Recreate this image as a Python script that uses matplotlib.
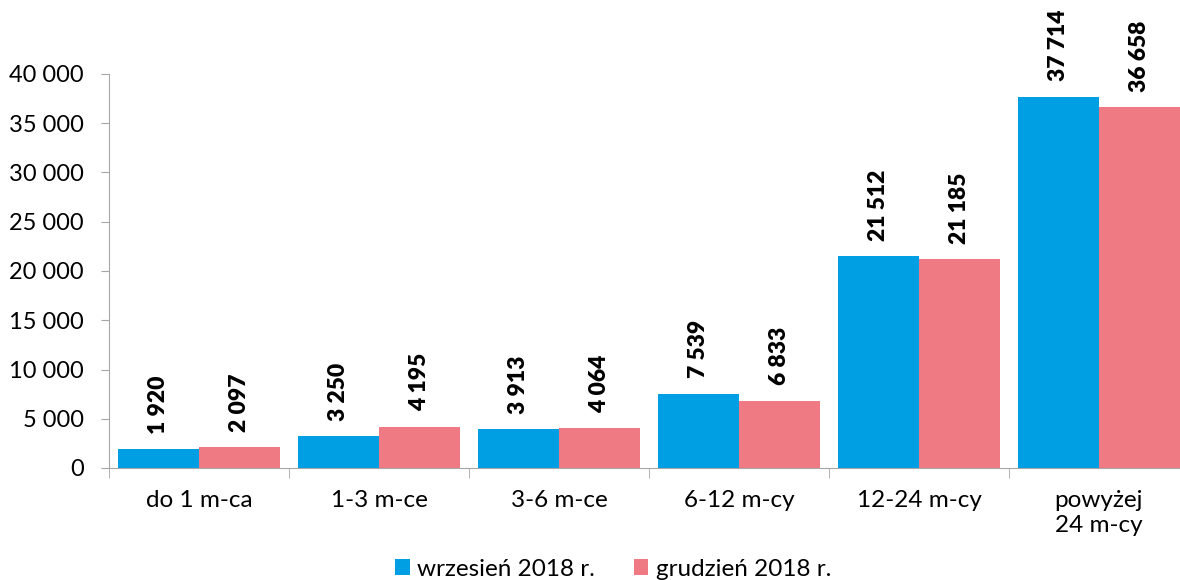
import matplotlib.pyplot as plt
import numpy as np

categories = ["do 1 m-ca", "1-3 m-ce", "3-6 m-ce", "6-12 m-cy", "12-24 m-cy", "powyżej\n24 m-cy"]
wrzesien = [1920, 3250, 3913, 7539, 21512, 37714]
grudzien = [2097, 4195, 4064, 6833, 21185, 36658]
series_names = ["wrzesień 2018 r.", "grudzień 2018 r."]
yticks = [0, 5000, 10000, 15000, 20000, 25000, 30000, 35000, 40000]

BLUE = "#009FE3"
PINK = "#F07A84"

plt.rcParams['font.family'] = ['Lato', 'DejaVu Sans']


def fmt(v):
    return "{:,}".format(v).replace(",", " ")


fig = plt.figure(figsize=(11.8, 5.8), dpi=100)
W, H = 1180, 580
ax = fig.add_axes([109 / W, 1 - 468 / H, 1080 / W, 394 / H])

x = np.arange(len(categories))
w = 0.45
b1 = ax.bar(x - w / 2, wrzesien, w, color=BLUE, label=series_names[0])
b2 = ax.bar(x + w / 2, grudzien, w, color=PINK, label=series_names[1])

for bars, vals in [(b1, wrzesien), (b2, grudzien)]:
    for rect, v in zip(bars, vals):
        ax.annotate(fmt(v), (rect.get_x() + rect.get_width() / 2, v),
                    xytext=(0, 11), textcoords="offset points",
                    rotation=90, ha="center", va="bottom",
                    fontsize=16.5, fontweight="heavy", annotation_clip=False)

ax.set_xlim(-0.5, len(categories) - 0.5)
ax.set_ylim(0, 40000)
ax.set_yticks(yticks)
ax.set_yticklabels([fmt(t) for t in yticks], fontsize=17)

ax.set_xticks(x)
ax.set_xticklabels(categories, fontsize=17.5, linespacing=1.25)
ax.tick_params(axis="x", length=0, pad=16)
ax.set_xticks(np.arange(len(categories) + 1) - 0.5, minor=True)
ax.tick_params(axis="x", which="minor", length=7, color="#A6A6A6")
ax.tick_params(axis="y", length=6, color="#A6A6A6", pad=12)

for s in ["top", "right"]:
    ax.spines[s].set_visible(False)
for s in ["left", "bottom"]:
    ax.spines[s].set_color("#A6A6A6")

fig.legend(loc="center", bbox_to_anchor=(613 / W, 1 - 569 / H), ncol=2,
           frameon=False, fontsize=17.5, handlelength=0.6, handleheight=0.6,
           handletextpad=0.3, columnspacing=1.6)

fig.savefig("out.png", dpi=100)
